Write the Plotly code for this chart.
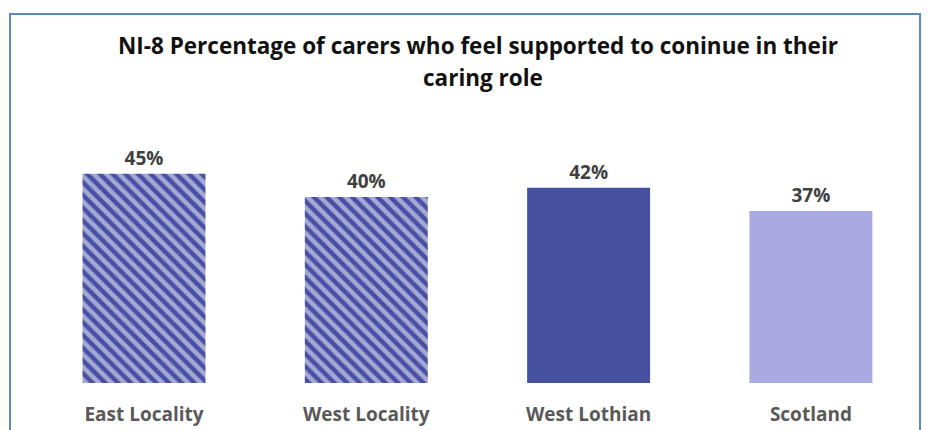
import plotly.graph_objects as go

categories = ["East Locality", "West Locality", "West Lothian", "Scotland"]
values = [45, 40, 42, 37]
labels = ["45%", "40%", "42%", "37%"]
title_lines = ["NI-8 Percentage of carers who feel supported to coninue in their", "caring role"]

bar_colors = ["#4850a6", "#4850a6", "#45519e", "#aaa9e2"]
pattern_shapes = ["\\", "\\", "", ""]
pattern_fg = ["#a8abf2", "#a8abf2", "#45519e", "#aaa9e2"]

# page body has an 8px default margin; work in page pixels and offset
OFF = 8
W, H = 933 - OFF, 430 - OFF
left, right = 10 - OFF, 920 - OFF
top, base = 14 - OFF, 383 - OFF
px_per_pct = 4.65
cat_spacing = 222.3
first_center = 144 - OFF

x0 = (left - first_center) / cat_spacing
x1 = (right - first_center) / cat_spacing
ytop = (base - top) / px_per_pct

fig = go.Figure()
fig.add_trace(go.Bar(
    x=categories, y=values, text=labels, textposition="outside",
    texttemplate="%{text}",
    width=0.553,
    cliponaxis=False,
    marker=dict(color=bar_colors, line=dict(width=0),
                pattern=dict(shape=pattern_shapes, fgcolor=pattern_fg,
                             size=9, solidity=0.5, fillmode="overlay")),
    textfont=dict(family="Open Sans", size=19, color="#404040", weight="bold"),
    hoverinfo="skip",
))

def px_to_paper_x(px):
    return (px - OFF - left) / (right - left)

def px_to_paper_y(py):
    return (base - (py - OFF)) / (base - top)

fig.add_annotation(text="<b>" + title_lines[0] + "</b>", x=px_to_paper_x(478), y=px_to_paper_y(45),
                   xref="paper", yref="paper", showarrow=False, xanchor="center", yanchor="middle",
                   font=dict(family="Open Sans", size=22.5, color="#111111"))
fig.add_annotation(text="<b>" + title_lines[1] + "</b>", x=px_to_paper_x(483), y=px_to_paper_y(77),
                   xref="paper", yref="paper", showarrow=False, xanchor="center", yanchor="middle",
                   font=dict(family="Open Sans", size=22.5, color="#111111"))

fig.add_shape(type="rect", xref="paper", yref="paper", x0=0, x1=1, y0=-0.3, y1=1,
              line=dict(color="#5b87c6", width=2), fillcolor="rgba(0,0,0,0)", layer="above")

fig.update_layout(
    width=W, height=H,
    margin=dict(l=left, r=W - right, t=top, b=H - base, autoexpand=False),
    paper_bgcolor="white", plot_bgcolor="white",
    showlegend=False,
    xaxis=dict(range=[x0, x1], showgrid=False, zeroline=False, showline=False, ticks="",
               tickfont=dict(family="Open Sans", size=19, color="#595959", weight="bold"),
               ticklabelstandoff=18, fixedrange=True, automargin=False),
    yaxis=dict(range=[0, ytop], showgrid=False, zeroline=False, showline=False,
               showticklabels=False, ticks="", fixedrange=True, automargin=False),
)

fig.write_html("out.html")
